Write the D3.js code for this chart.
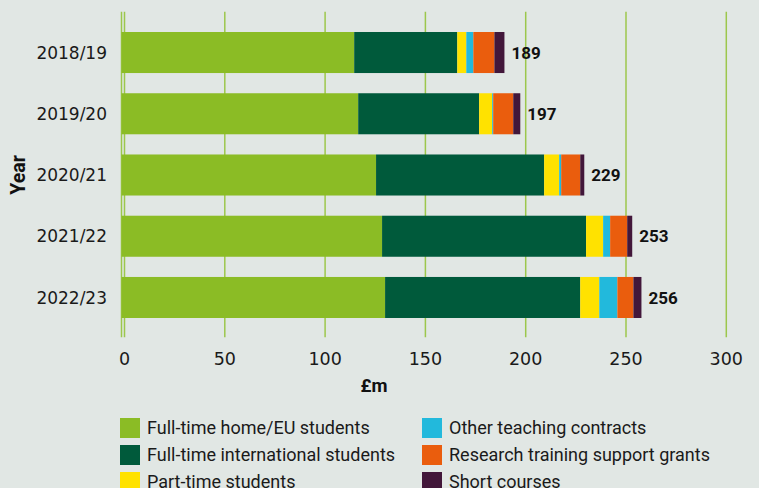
<!DOCTYPE html>
<html>
<head>
<meta charset="utf-8">
<script src="https://cdn.jsdelivr.net/npm/d3@7"></script>
<style>
  body { margin: 0; background: #e1e7e4; }
  svg { display: block; }
</style>
</head>
<body>
<div id="chart"></div>
<script>
// values, £m
const years = ["2018/19", "2019/20", "2020/21", "2021/22", "2022/23"];
const series = ["Full-time home/EU students", "Full-time international students", "Part-time students",
    "Other teaching contracts", "Research training support grants", "Short courses"];
const homeEU = [114.5, 116.5, 125.4, 128.4, 129.9];
const international = [51.4, 60.3, 83.8, 101.7, 97.3];
const partTime = [4.5, 6.5, 7.5, 8.5, 9.5];
const otherTeaching = [3.5, 0.5, 1.0, 3.5, 9.0];
const researchGrants = [10.5, 10.0, 9.5, 8.5, 8.0];
const shortCourses = [5.0, 3.5, 2.0, 2.5, 4.0];
const totals = [189, 197, 229, 253, 256];
const xTicks = [0, 50, 100, 150, 200, 250, 300];

const colors = ["#8bbc25", "#005a3b", "#ffe200", "#22b9dc", "#ea5d0d", "#42173a"];
const width = 759;
const height = 488;

const table = years.map((yr, i) => ({
    year: yr,
    [series[0]]: homeEU[i],
    [series[1]]: international[i],
    [series[2]]: partTime[i],
    [series[3]]: otherTeaching[i],
    [series[4]]: researchGrants[i],
    [series[5]]: shortCourses[i],
    total: totals[i]
}));

const svg = d3.select("#chart").append("svg")
    .attr("width", width)
    .attr("height", height);

svg.append("rect")
    .attr("width", width)
    .attr("height", height)
    .style("fill", "#e1e7e4");

const x = d3.scaleLinear()
    .domain([0, 300])
    .range([124.5, 726.3]);

const y = d3.scaleBand()
    .domain(years)
    .range([11.8, 338.2])
    .padding(0.33);

const stack = d3.stack().keys(series);
const layers = stack(table);

// gridlines + ticks
svg.append("g")
    .selectAll("line")
    .data(xTicks)
    .enter()
    .append("line")
    .attr("x1", d => x(d))
    .attr("x2", d => x(d))
    .attr("y1", y.range()[0])
    .attr("y2", y.range()[1] - 1)
    .style("stroke", "#9cc74c")
    .style("stroke-width", 1.5);

// axis line just left of zero
svg.append("line")
    .attr("x1", x(0) - 3)
    .attr("x2", x(0) - 3)
    .attr("y1", y.range()[0])
    .attr("y2", y.range()[1] - 1)
    .style("stroke", "#9cc74c")
    .style("stroke-width", 1.5);

// bars
svg.append("g")
    .selectAll("g")
    .data(layers)
    .enter()
    .append("g")
    .style("fill", (d, i) => colors[i])
    .selectAll("rect")
    .data(d => d)
    .enter()
    .append("rect")
    .attr("x", d => d[0] === 0 ? x(0) - 3 : x(d[0]))
    .attr("y", d => y(d.data.year))
    .attr("width", d => x(d[1]) - (d[0] === 0 ? x(0) - 3 : x(d[0])))
    .attr("height", y.bandwidth());

// total labels
const last = layers[layers.length - 1];
svg.append("g")
    .selectAll("text")
    .data(last)
    .enter()
    .append("text")
    .attr("x", d => x(d[1]) + 7)
    .attr("y", d => y(d.data.year) + y.bandwidth() / 2)
    .attr("dy", "0.36em")
    .style("font-family", "Roboto, 'Liberation Sans', sans-serif")
    .style("font-weight", "bold")
    .style("font-size", "17px")
    .style("fill", "#111")
    .text(d => d.data.total);

// year labels
svg.append("g")
    .selectAll("text")
    .data(years)
    .enter()
    .append("text")
    .attr("x", 107)
    .attr("y", d => y(d) + y.bandwidth() / 2)
    .attr("dy", "0.36em")
    .attr("text-anchor", "end")
    .style("font-family", "'DejaVu Sans', sans-serif")
    .style("font-size", "17px")
    .style("fill", "#1a1a1a")
    .text(d => d);

// x tick labels
svg.append("g")
    .selectAll("text")
    .data(xTicks)
    .enter()
    .append("text")
    .attr("x", d => x(d))
    .attr("y", 365)
    .attr("text-anchor", "middle")
    .style("font-family", "'DejaVu Sans', sans-serif")
    .style("font-size", "17.5px")
    .style("fill", "#1a1a1a")
    .text(d => d);

// axis titles
svg.append("text")
    .attr("x", 374)
    .attr("y", 392)
    .attr("text-anchor", "middle")
    .style("font-family", "Roboto, sans-serif")
    .style("font-weight", "bold")
    .style("font-size", "18.5px")
    .style("fill", "#111")
    .text("£m");

svg.append("text")
    .attr("transform", "translate(25," + ((y.range()[0] + y.range()[1]) / 2) + ") rotate(-90)")
    .attr("text-anchor", "middle")
    .style("font-family", "Roboto, sans-serif")
    .style("font-weight", "bold")
    .style("font-size", "19.5px")
    .style("fill", "#111")
    .text("Year");

// legend, two columns of three
const legend = svg.append("g")
    .selectAll("g")
    .data(series)
    .enter()
    .append("g")
    .attr("transform", (d, i) => "translate(" + (i < 3 ? 120 : 422) + "," + (418 + (i % 3) * 27) + ")");

legend.append("rect")
    .attr("width", 20)
    .attr("height", 20)
    .style("fill", (d, i) => colors[i]);

legend.append("text")
    .attr("x", 27)
    .attr("y", 16)
    .style("font-family", "Roboto, sans-serif")
    .style("font-size", "18px")
    .style("fill", "#1a1a1a")
    .text(d => d);
</script>
</body>
</html>
